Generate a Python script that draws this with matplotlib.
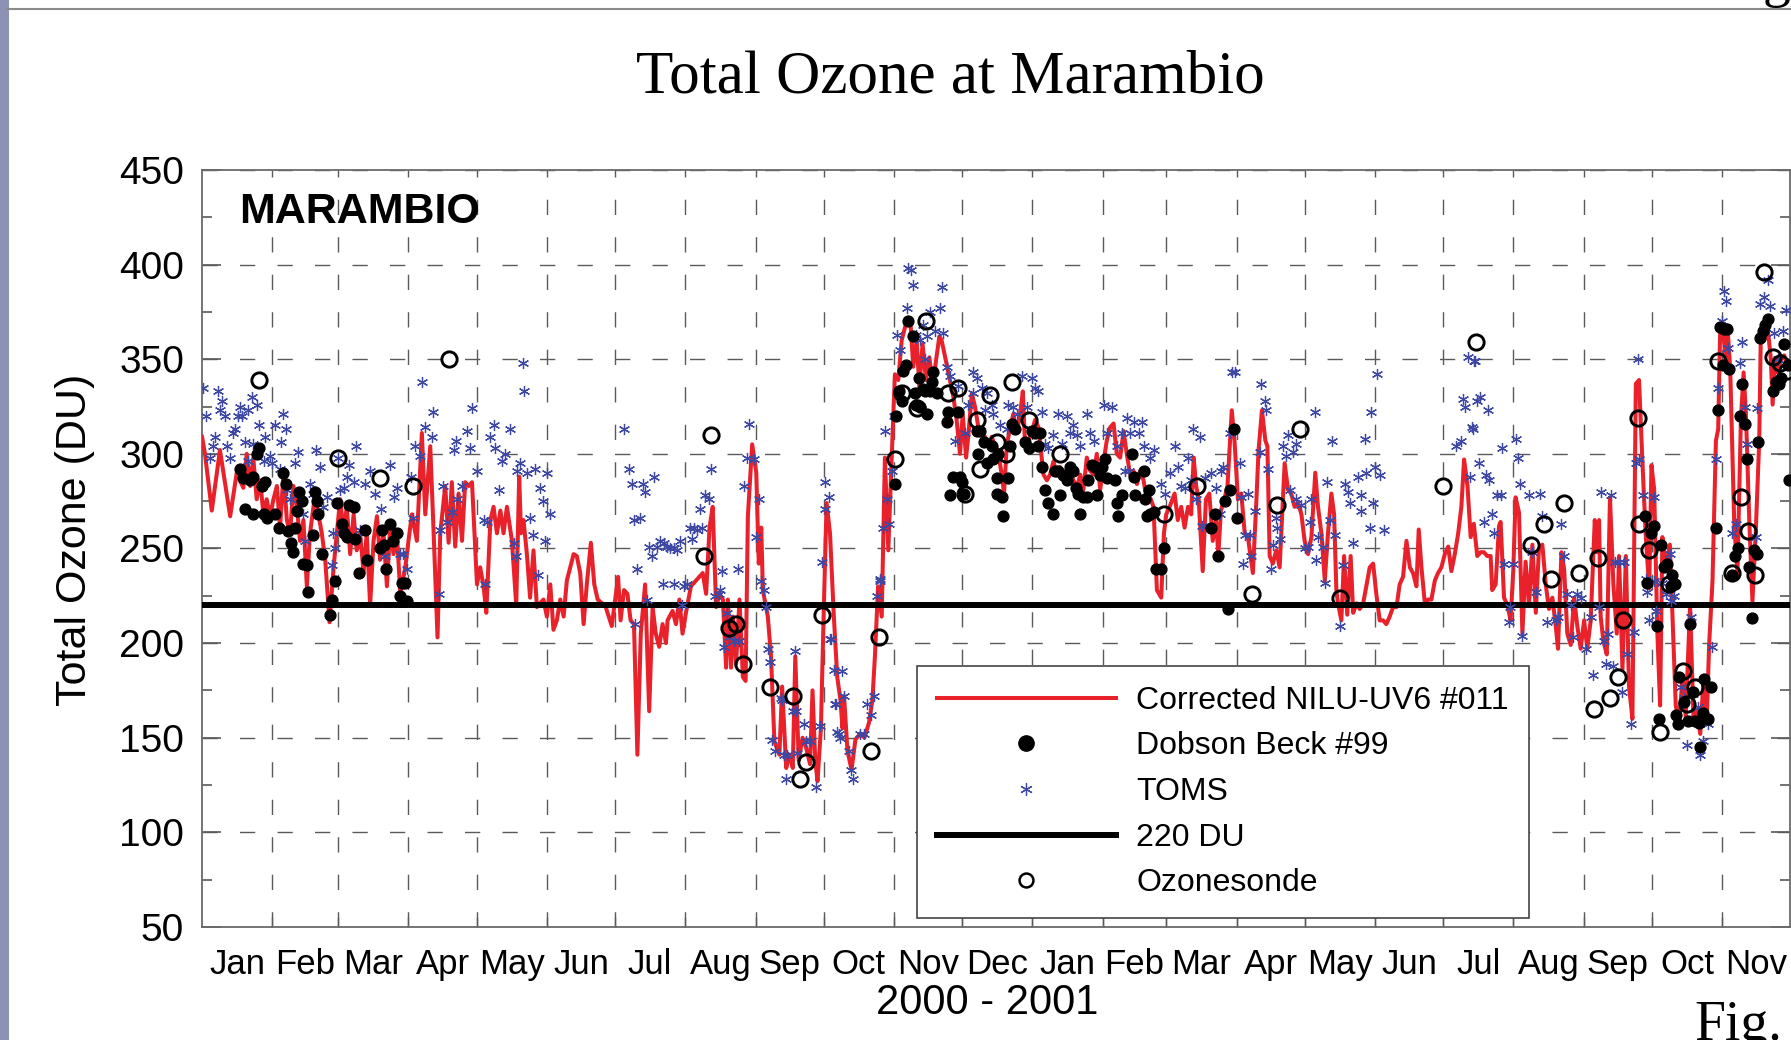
import numpy as np
import matplotlib
matplotlib.use("Agg")
import matplotlib.pyplot as plt
from matplotlib.lines import Line2D
from matplotlib.patches import Rectangle

# x values are days since 2000-01-01, y values are total ozone in DU

MONTH_LABELS = ['Jan', 'Feb', 'Mar', 'Apr', 'May', 'Jun', 'Jul', 'Aug', 'Sep', 'Oct', 'Nov', 'Dec',
                'Jan', 'Feb', 'Mar', 'Apr', 'May', 'Jun', 'Jul', 'Aug', 'Sep', 'Oct', 'Nov']

# Corrected NILU-UV6 #011 (red line)
NILU = [
    (0, 309), (1.3, 300), (4.3, 270), (7.9, 302), (12.4, 267), (15.3, 290), (18.2, 282), (19.7, 300),
    (21.2, 283), (22.6, 298), (24.1, 276), (25.6, 286), (27.1, 268), (28.5, 276), (30, 267),
    (31.5, 276), (33, 283), (34.4, 261), (35.9, 290), (37.4, 265), (38.8, 258), (40.3, 283), (41.8, 272),
    (43.2, 254), (44.7, 265), (46.2, 230), (47.6, 258), (49.9, 279), (51.3, 268), (52.8, 258), (54.3, 244),
    (56.2, 211), (58, 240), (59.4, 258),
    (60.9, 276), (62.4, 258), (63.8, 272), (65.3, 247), (66.8, 268), (68.2, 249), (69.7, 258), (71.2, 237),
    (72.6, 258), (74.1, 220), (75.6, 254), (77.1, 267), (78.5, 244), (80, 258), (81.5, 230), (82.9, 261),
    (84.4, 247), (85.9, 258), (87.4, 226), (89.6, 240), (91, 254),
    (92.5, 268), (94.7, 254), (96.9, 311), (98.4, 268), (100.6, 304), (102.1, 258), (103.8, 203), (105, 258),
    (107.2, 283), (108.7, 253), (110.1, 285), (111.6, 251), (113.1, 279), (114.6, 254), (116, 285),
    (117.5, 283), (119, 285), (121.2, 231),
    (122.6, 240), (124.1, 230), (125.3, 216), (127.1, 265), (128.5, 272), (130, 258), (131.5, 270),
    (132.9, 258), (134.4, 272), (136.6, 254), (138.5, 220), (139.8, 288), (140.6, 258), (141.7, 265),
    (143.2, 247), (144.6, 224), (146.1, 249), (147.6, 219), (149, 221), (150.5, 223), (152, 214),
    (153.5, 231), (154.9, 207), (156.4, 212), (157.9, 223), (159.4, 214), (160.8, 233), (163.8, 247),
    (165.2, 246), (166.7, 237), (168.2, 210), (169.6, 231), (171.4, 253), (172.9, 231), (174.4, 223),
    (176.3, 221), (177.7, 220), (180.6, 209), (182.1, 223), (183.4, 235),
    (184.5, 212), (186, 228), (187.5, 226), (188.9, 212), (190.4, 210), (191.9, 141), (193.4, 205),
    (195.3, 231), (197.1, 164), (198.6, 219), (200, 205), (201.5, 198), (203, 210), (204.5, 200),
    (205.2, 212), (207.4, 217), (208.9, 210), (210.4, 223), (211.8, 205), (213.3, 216), (215.5, 230),
    (217.7, 233),
    (220.7, 237), (222.2, 226), (223.7, 261), (225.1, 272), (226.6, 219), (228.1, 226), (229.6, 223),
    (231, 187), (231.8, 223), (233.2, 187), (234, 214), (235.4, 189), (236.9, 223), (238.4, 182),
    (239.6, 180), (240.6, 267), (242.5, 305), (244.3, 290), (245.4, 242),
    (246.5, 261), (247.2, 228), (249.4, 214), (250.8, 193), (252.3, 148), (254.5, 141), (255.7, 177),
    (257.5, 134), (258.9, 141), (260.4, 134), (261.5, 193), (263, 138), (264.7, 150), (266.2, 145),
    (268, 136), (269.1, 175), (270.3, 138), (271.3, 127), (272.8, 155), (274, 215), (275.3, 274),
    (276.8, 258), (278.5, 214), (280, 182), (281.4, 170),
    (282.3, 155), (283, 172), (284.5, 143), (286.3, 133), (288, 149), (290, 152), (292, 150), (294, 158),
    (295.5, 170), (296.6, 193), (298, 230), (299.6, 214), (301, 298), (302.5, 249), (304, 298),
    (305.4, 342), (306.9, 339), (308.4, 360), (309.9, 367), (311.3, 372), (312.4, 367), (313.5, 346),
    (315, 360), (316.2, 335), (317.6, 358), (319.1, 339), (320.6, 351), (322.1, 335), (323.5, 349),
    (325, 362), (326, 360), (331.2, 330), (332.6, 318), (334.1, 300), (335.3, 321), (336.8, 298),
    (337.8, 310), (339.3, 332), (340.7, 325), (342.2, 314), (343.7, 311), (345.1, 309), (346.6, 304),
    (348.1, 309), (349.6, 304), (351, 300), (352.5, 289), (353.5, 279), (354.7, 304), (356.2, 314),
    (357.6, 321), (359.1, 311), (360.6, 321), (361.8, 333), (362.8, 304), (364.3, 307), (365.7, 311),
    (367.2, 318), (368.7, 314),
    (370.9, 289), (372.4, 286), (373.8, 289), (375.3, 296), (376.8, 289), (378.2, 293), (379.7, 289),
    (381.2, 288), (382.6, 291), (384.1, 286), (385.6, 282), (387.1, 289), (388.5, 281), (390, 298),
    (391.5, 291), (393, 289), (394.4, 300), (395.9, 281), (397.4, 296), (398.8, 307), (400.3, 314),
    (401.8, 316), (403.2, 300), (404.7, 298), (406.2, 312), (407.6, 300), (409.1, 289), (410.6, 291),
    (412.1, 284), (413.5, 291), (415, 286), (416.5, 275), (417.9, 277), (419.4, 272), (420.9, 228),
    (422.8, 224), (424, 258), (425, 268), (426.5, 272), (428.7, 279), (430.1, 265), (431.6, 272),
    (433.1, 261), (434.6, 272), (436, 268), (437.1, 298), (438.2, 283), (439.3, 276), (441.1, 238),
    (442.5, 276), (444, 279), (445.5, 254), (446.9, 265), (448, 247), (449.1, 270), (450.6, 276),
    (452, 283), (453.9, 323), (455.1, 307), (456.6, 276), (458.1, 279), (459.6, 258), (461, 256),
    (463.2, 237), (464.7, 274), (465.7, 302), (467.2, 323), (468.7, 307), (469.6, 304), (470.6, 246),
    (472, 242), (473.5, 249), (475, 240), (477.2, 295), (478.7, 281), (480.1, 279), (481.6, 272),
    (483.1, 274), (484.6, 268), (486, 254), (487.5, 247), (489, 256), (490.7, 290), (491.9, 272),
    (493.4, 258), (494.9, 233), (496.3, 258), (497.8, 279), (499, 268), (500, 228), (500.7, 221),
    (502.2, 212), (503.4, 246), (504.8, 215), (506.3, 246), (507.4, 216), (508.9, 221), (510.3, 218),
    (511.8, 221), (513.2, 230), (514.7, 240), (516.2, 242), (517.6, 226), (519.1, 212), (520.6, 212),
    (522, 210), (523.5, 214), (525, 219), (526.5, 219), (527.9, 231), (529.4, 235), (530.9, 254),
    (532.4, 240), (533.8, 237), (535.3, 230), (536.3, 260), (537.5, 240), (539, 221), (540.4, 223),
    (541.9, 223), (543.4, 233), (544.8, 237), (546.3, 240), (547.8, 247), (549.3, 251), (550.7, 238),
    (552.2, 247), (553.7, 258), (555.1, 272), (556.3, 297), (557.8, 283), (559.2, 256), (560.6, 263),
    (562.1, 246), (563.6, 248), (565, 248), (566.5, 246), (568, 246), (568.7, 228), (570.2, 231),
    (571.7, 262), (572.4, 264), (573.9, 224), (575.4, 220), (576.8, 212), (578, 239), (579, 277),
    (580.5, 269), (582, 205), (583.4, 243), (584.9, 220), (586.4, 252), (587.9, 216), (589.3, 250),
    (590.8, 252), (592.3, 231), (593.7, 218), (595.2, 224), (596.7, 209), (597.7, 197), (599.2, 248),
    (600.4, 239), (601.8, 205), (603.3, 199), (604.8, 224), (606.2, 209), (607.7, 197), (609.2, 212),
    (610.6, 197), (612.1, 212), (613.9, 265), (614.8, 248), (615.8, 265), (616.5, 214), (617.7, 201),
    (619.2, 194), (620.6, 277), (622.1, 231), (623.6, 205), (624.6, 246), (626.1, 186), (627.6, 246),
    (629, 177), (630.5, 160), (632, 337), (633.4, 339), (634.9, 296), (636.4, 256), (637.9, 229),
    (638.9, 294), (640.1, 281), (641.5, 205), (642.7, 167), (643.7, 256), (645.2, 239), (647, 252),
    (648.1, 216), (649.6, 167), (651.1, 158), (652.6, 182), (654, 161), (655.9, 220), (657.4, 161),
    (658.9, 165), (660.4, 152), (661.8, 180), (663.3, 161), (664.3, 199), (665.8, 233), (667.3, 307),
    (668.3, 313), (669.2, 367), (670.6, 364), (671.7, 347), (672.4, 367), (673.6, 345), (675.4, 262),
    (676.8, 237), (678.3, 318), (679.5, 343), (680.5, 322), (682, 265), (683.4, 222), (684.9, 260),
    (686.4, 307), (687.1, 364), (688.6, 360), (690.1, 367), (691.5, 350), (692.3, 326), (693.3, 350),
    (694.5, 343), (696, 350), (697.4, 352), (698.9, 347),
]

# TOMS (blue asterisks)
TOMS = [
    (0.6, 335), (1.8, 320), (3.5, 298), (5, 304), (5.7, 309), (7.2, 333), (8, 323), (8.7, 328),
    (10.1, 320), (10.9, 304), (12.4, 298), (13.8, 311), (14.6, 313), (16, 320), (16.8, 325), (17.5, 320),
    (18.9, 306), (20.4, 323), (20.4, 296), (21.9, 330), (22.6, 305), (24.1, 326), (24.9, 315), (27.1, 296),
    (27.8, 309), (30, 299), (30.7, 295), (32.2, 315), (34.4, 292), (34.7, 306), (35.9, 321), (37.1, 313),
    (37.4, 281), (38.8, 276), (41, 295), (42.5, 301), (44.7, 268), (45.3, 254), (47.6, 284), (49.1, 279),
    (50.3, 302), (51.8, 293), (53.5, 272), (55, 277), (57.2, 241), (57.9, 258), (58.7, 250), (60.1, 298),
    (60.9, 281), (62.4, 282), (63.8, 288), (64.6, 294), (66.8, 285), (67.9, 304), (69.7, 260), (71.9, 284),
    (74.1, 291), (76.3, 279), (79.1, 271), (80.7, 246), (82.9, 294), (84.4, 277), (85.9, 282), (87.4, 247),
    (88.8, 247), (90.3, 239), (92, 288), (93.2, 266), (94, 304), (96.2, 299), (96.9, 338), (98.4, 314),
    (101.3, 309), (101.8, 322), (104.3, 226), (105, 260), (106.3, 283), (107.9, 264), (110.1, 269),
    (110.9, 302), (112.1, 307), (112.4, 276), (114.6, 283), (116.8, 312), (118.2, 303), (119, 324),
    (121.2, 291), (124.1, 265), (124.9, 231), (125.6, 264), (127.1, 309), (128.5, 315), (129.3, 303),
    (130.7, 281), (132.2, 296), (133.6, 300), (135.9, 313), (137.3, 253), (138.5, 246), (138.8, 291),
    (140.2, 295), (141.4, 348), (142, 333), (143.2, 290), (144.6, 266), (146.1, 257), (146.9, 292),
    (148.3, 236), (149.1, 282), (150.2, 275), (151.3, 254), (152, 290), (153.2, 268),
    (186.1, 313), (188, 292), (189.5, 284), (190.2, 265), (191, 210), (191.7, 239), (193.2, 266),
    (194.4, 284), (195.4, 280), (196.1, 223), (196.9, 251), (198.4, 246), (199.1, 288), (200.5, 251),
    (202, 254), (203.2, 231), (203.5, 253), (205, 251), (206.4, 250), (207.9, 250), (207.9, 231),
    (209.4, 249), (210.5, 254), (211.6, 220), (212.3, 230), (213.8, 231), (215.2, 261), (216, 255),
    (216.7, 261), (218.2, 260), (219.3, 271), (220.4, 261), (221.8, 278), (223.3, 276), (224.4, 292),
    (226.3, 225), (227.8, 226), (228.5, 228), (229.2, 238), (230.2, 198), (231.4, 216), (232.1, 203),
    (234.4, 201), (236.3, 239), (236.6, 201), (239.1, 283), (240.2, 298), (241.3, 316), (243.2, 297),
    (244.4, 256), (245.4, 276), (246.4, 233), (247.6, 228), (248.8, 219), (249.4, 197), (250.5, 190),
    (251.3, 149), (252.7, 143), (255, 171), (255.7, 170), (256.4, 141), (257.3, 128), (258, 141),
    (260.5, 164), (261.5, 196), (261.7, 164), (262.3, 142), (265.5, 157), (266.4, 148), (268.2, 148),
    (270.5, 124), (272.3, 156), (273.3, 243), (274.4, 271), (274.8, 285), (276.3, 277), (277, 202),
    (277.4, 202), (278.5, 186), (279, 168), (279.3, 168), (280, 153), (280.7, 152), (281, 150),
    (282, 185), (283, 172), (285, 143), (286, 133), (287, 128), (290, 152), (292, 152), (293, 168),
    (295, 162), (296, 172), (297.4, 225), (298.8, 233), (299, 234), (300.3, 261), (301, 312),
    (301.8, 276), (302.9, 263), (304, 291), (305, 320), (306.2, 363), (307.6, 355), (310.6, 377),
    (311.3, 398), (312.4, 397), (313.2, 389), (314.7, 363), (316.5, 360), (318, 368), (318.7, 350),
    (319.7, 362), (320.9, 375), (323.1, 365), (325.3, 377), (326, 388), (326.8, 364), (328.2, 346),
    (329.7, 341), (331.9, 307), (333.4, 336), (336.3, 311), (337.8, 326), (340, 343), (340, 332),
    (341.5, 340), (343.7, 335), (345.1, 323), (345.9, 332), (348.1, 326), (348.8, 321), (351.8, 315),
    (354.7, 313), (355.4, 326), (357.6, 325), (359.1, 321), (361.3, 341), (363.5, 325), (365.7, 340),
    (367.2, 335), (368.7, 333), (370.1, 322), (371.6, 305), (373.1, 303), (375.3, 310), (377.5, 321),
    (379, 305), (381.2, 320), (382.6, 311), (384.1, 315), (385.6, 310), (387.1, 304), (390, 321),
    (391.5, 311), (393, 307), (397.4, 326), (398.8, 311), (401, 325), (403.2, 304), (405.4, 311),
    (406.9, 291), (407.6, 319), (408.4, 291), (409.1, 311), (410.6, 317), (412.8, 311), (414.3, 317),
    (415, 304), (417.9, 298), (419.4, 302),
    (422.8, 284), (424.3, 279), (426.5, 290), (428.7, 304), (430.1, 293), (431.6, 283), (433.1, 282),
    (434.6, 298), (436, 286), (436.8, 313), (438.2, 276), (439.7, 309), (440.8, 262), (442.3, 287),
    (444.9, 290), (447.1, 282), (448.5, 268), (449.3, 291), (450, 293), (452.9, 311), (454, 343),
    (455.4, 343), (457.4, 295), (458.1, 277), (458.8, 242), (459.6, 257), (461, 279), (461.8, 257),
    (462.5, 246), (464.3, 270), (466.2, 301), (466.9, 337), (468.4, 328), (469.1, 323), (469.9, 292),
    (471.3, 239), (472, 252), (473.5, 266), (474, 261), (475, 255), (476.5, 304), (478, 299),
    (478.7, 310), (479.5, 281), (480.9, 301), (482.4, 305), (482.4, 276), (484.6, 273), (486, 250),
    (487.5, 251), (488.2, 264), (489, 276), (490.4, 322), (491.2, 244), (491.9, 256), (494.1, 251),
    (494.9, 232), (496, 285), (497.1, 265), (498.1, 307), (499.3, 257), (501.5, 209), (503, 241),
    (503.7, 284), (505.1, 280), (505.9, 274), (507.4, 253), (509.6, 288), (510.7, 278), (511, 270),
    (512.5, 308), (513.2, 290), (514.7, 261), (515.4, 322), (516.2, 274), (516.9, 293), (518.1, 342),
    (519.1, 289), (521, 260),
    (552.9, 304), (555.1, 307), (555.8, 329), (556.8, 325), (558.1, 351), (559, 288), (559.9, 314),
    (560.3, 313), (560.6, 349), (561, 349), (562.1, 328), (563, 295), (563.5, 330), (565, 264),
    (566, 289), (566.8, 323), (567.3, 286), (568.7, 268), (569.7, 258), (571, 278), (572.5, 278),
    (573, 303), (573.9, 242), (576, 211), (576.5, 219), (578, 242), (579, 308), (580, 298), (581, 284),
    (582, 204), (585, 278), (586.4, 248), (587.9, 227), (589.8, 279), (590.8, 267), (593, 211),
    (596.7, 212), (597.7, 214), (598.9, 263), (600.3, 246), (601.8, 226), (603.3, 220), (604.5, 203),
    (606.2, 226), (607.7, 224), (609.9, 197), (612.1, 214), (612.9, 183), (615.8, 219), (616.8, 280),
    (618, 201), (618.7, 189), (619.8, 205), (621.2, 278), (622.1, 188), (622.7, 243), (624.6, 243),
    (626.1, 174), (626.8, 243), (628, 194), (629.8, 157), (631.2, 206), (632, 295), (633, 350),
    (633.4, 297), (635, 278), (636.4, 234), (637.1, 227), (637.9, 212), (639.8, 277), (640.1, 233),
    (640.8, 217), (643.7, 232), (645.2, 226), (647, 247), (647.4, 222), (648.9, 225), (651.1, 182),
    (651.8, 177), (653.3, 171), (654.7, 146), (656.2, 214), (657, 173), (659.2, 166), (660.1, 141),
    (661.4, 148), (663.6, 157), (665.4, 198), (667.3, 297), (668, 335), (669.8, 370), (671, 386),
    (671.7, 381), (672.7, 356), (674.6, 258), (676.1, 263), (678, 348), (679, 359), (680.1, 325),
    (681.2, 305), (684.9, 256), (685.6, 324), (686.8, 379), (688.6, 383), (690.1, 392), (691.2, 378),
    (693, 364), (694.5, 350), (696.7, 365), (698.1, 376),
]

# Dobson Beck #99 (filled dots)
DOBSON = [
    (16.8, 292), (18.2, 287), (19, 271), (21.2, 286), (22.6, 288), (22.6, 268), (24.1, 300), (24.9, 303),
    (26.3, 283), (27.1, 268), (27.8, 285), (28.5, 266), (32.2, 268), (34, 261), (35.9, 290), (37.1, 284),
    (38.1, 259), (39.1, 253), (40, 248), (41, 261), (41.8, 270), (42.8, 280), (44, 275), (44.7, 242),
    (46.2, 241), (46.9, 227), (49.1, 257), (49.9, 280), (50.6, 275), (51.3, 268), (52.8, 247), (56.2, 215),
    (57.2, 223), (58.7, 233), (59.7, 274), (61.6, 263), (62.4, 258), (63.8, 256), (64.6, 273), (66.8, 272),
    (67.5, 255), (69, 237), (71.9, 260), (72.6, 244), (78.5, 250), (79.3, 260), (80, 252), (81.2, 239),
    (82.9, 263), (84.1, 254), (85.9, 258), (87.1, 225), (88.1, 232), (89.6, 232), (90.3, 222),
    (305.4, 284), (305.9, 320), (307.4, 333), (308.4, 328), (308.8, 344), (310.3, 347), (311.3, 370),
    (313.2, 362), (314.3, 332), (314.7, 326), (316.2, 340), (316.5, 325), (317.6, 334), (318.7, 333),
    (319.7, 321), (320.9, 333), (321.6, 338), (322.4, 343), (323.8, 332), (328.2, 317), (329, 322),
    (329.7, 278), (331.2, 288), (333.4, 322), (334.1, 288), (334.9, 285), (335.9, 279), (341.5, 312),
    (342.2, 300), (343, 312), (344.5, 306), (345.9, 295), (348.1, 304), (348.8, 297), (350.3, 287),
    (350.3, 279), (351, 300), (352.5, 277), (353.2, 267), (355.4, 287), (356.2, 304), (356.9, 316),
    (358.4, 313), (362.8, 306), (364.3, 303), (365.7, 312), (367.2, 311), (368.7, 304), (369.4, 311),
    (370.1, 293), (371.6, 281), (373.1, 274), (375.3, 268), (376, 291), (377.5, 291), (378.2, 278),
    (379.7, 289), (381.2, 286), (382.6, 293), (384.1, 291), (385.3, 282), (386.3, 279), (387.1, 268),
    (388.5, 277), (390, 277), (390.7, 286), (392.2, 294), (393.7, 293), (394.4, 278), (395.6, 289),
    (396.6, 293), (398.1, 297), (398.8, 287), (402.5, 286), (403.2, 274), (403.9, 267), (405.4, 278),
    (409.9, 300), (410.6, 288), (411.3, 278), (415, 291), (415.7, 276), (416.5, 267), (417.2, 281),
    (417.9, 268), (419.4, 269), (420.6, 239), (422.8, 239), (424, 250),
    (444.9, 261), (446.3, 268), (447.8, 246), (450.7, 275), (452.2, 218), (452.9, 281), (454.9, 313),
    (456.3, 266),
    (636, 267), (637.1, 232), (638.6, 258), (639.8, 262), (641.3, 209), (642.3, 160), (643, 252),
    (644.2, 240), (645.9, 242), (647.4, 230), (648.1, 236), (649.2, 231), (649.6, 162), (650.7, 157),
    (651.1, 182), (653.3, 169), (654.8, 159), (655.9, 210), (657.4, 174), (658, 159), (659.9, 158),
    (660.1, 145), (661.4, 163), (662.1, 181), (663.9, 160), (665.1, 177), (667.3, 261), (668, 323),
    (669.2, 367), (670.6, 347), (671, 366), (672.4, 366), (673.1, 345), (674.2, 236), (675.6, 246),
    (677.1, 250), (678, 320), (679, 337), (680.1, 316), (681, 297), (682, 240), (683.4, 213),
    (684.2, 249), (685.3, 247), (685.9, 306), (686.8, 361), (687.9, 365), (688.9, 368), (690.1, 371),
    (692.3, 333), (693.7, 338), (695.2, 337), (695.9, 340), (697.4, 358), (698.9, 347), (699.6, 286),
]

# Ozonesonde (open circles)
SONDE = [
    (25.2, 339), (60, 298), (78.6, 287), (93.2, 283), (108.9, 350),
    (221.4, 246), (224.4, 310), (232.1, 208), (235.5, 210), (238.5, 189), (250.2, 177), (260.5, 172),
    (263.5, 128), (266.4, 137), (273.3, 215), (294.8, 143), (298.5, 203),
    (305.4, 297), (308.4, 332), (315, 324), (319.1, 370), (329, 332), (333.4, 335), (336.3, 279),
    (341.5, 318), (343, 292), (347.5, 331), (350.3, 306), (354.3, 300), (357.2, 338), (364.3, 318),
    (378.2, 300), (424, 268), (438.5, 283), (463, 226), (473.8, 273), (483.8, 313), (501.5, 224),
    (547, 283), (561.5, 359), (585.6, 252), (591.7, 263), (594.7, 234), (600.3, 274), (606.8, 237),
    (613.4, 165), (615.4, 245), (620.4, 171), (624, 182), (626.5, 212), (632.8, 319), (633.5, 263),
    (637.6, 249), (642.6, 153), (646.6, 231), (652.7, 185), (654.7, 168), (658.2, 177), (668.3, 349),
    (674.4, 237), (678.5, 277), (681.5, 259), (684.4, 236), (688.5, 396), (692.5, 351), (695.5, 348),
    (698.6, 344),
]

THRESHOLD = 220

SANS = 'Liberation Sans'
SERIF = 'Liberation Serif'
RED = '#e8212b'
BLUE = '#3c48a3'
GRID = '#5a5a5a'

nilu_x, nilu_y = np.array(NILU).T
toms_x, toms_y = np.array(TOMS).T
dob_x, dob_y = np.array(DOBSON).T
sonde_x, sonde_y = np.array(SONDE).T

# month edges in days since 2000-01-01
months = np.arange(np.datetime64('2000-01'), np.datetime64('2001-12') + 1)
edges = (months.astype('datetime64[D]') - np.datetime64('2000-01-01')).astype(int)
centers = (edges[:-1] + edges[1:]) / 2

fig = plt.figure(figsize=(17.91, 10.40), dpi=100)
ax = fig.add_axes([0.1128, 0.1087, 0.8867, 0.7279])

ax.plot(nilu_x, nilu_y, color=RED, lw=2.9, zorder=3)
ax.axhline(THRESHOLD, color='black', lw=4.3, zorder=4)
ax.plot(toms_x, toms_y, ls='none', marker=(6, 2, 0), ms=8, mec=BLUE, mew=0.9, zorder=5)
ax.plot(dob_x, dob_y, ls='none', marker='o', ms=7.8, mfc='black', mec='black', zorder=6)
ax.plot(sonde_x, sonde_y, ls='none', marker='o', ms=11, mfc='none', mec='black', mew=2.1, zorder=7)

ax.set_xlim(edges[0], edges[-1])
ax.set_ylim(50, 450)

ax.set_xticks(edges[1:-1])
ax.set_xticklabels([])
ax.set_xticks(centers, minor=True)
ax.set_xticklabels(MONTH_LABELS, minor=True, family=SANS, fontsize=25)
ax.tick_params(axis='x', which='major', direction='in', length=7, width=1, color=GRID)
ax.tick_params(axis='x', which='minor', length=0, pad=15)

ax.set_yticks(np.arange(50, 451, 50))
ax.set_yticks(np.arange(75, 450, 50), minor=True)
ax.set_yticklabels([str(v) for v in range(50, 451, 50)], family=SANS, fontsize=28)
ax.tick_params(axis='y', which='major', direction='in', length=14, width=1.2, color=GRID,
               right=True, pad=13)
ax.tick_params(axis='y', which='minor', direction='in', length=7, width=1.2, color=GRID, right=True)

ax.grid(True, which='major', color=GRID, lw=1.0, ls=(0, (11, 16)))
ax.set_axisbelow(True)
for s in ax.spines.values():
    s.set_color('#6a6a6a')
    s.set_linewidth(1.3)

ax.text(0.0233, 0.9445, 'MARAMBIO', transform=ax.transAxes, family=SANS, fontsize=31,
        fontweight='bold', ha='left', va='center')

handles = [
    Line2D([], [], color=RED, lw=2.9),
    Line2D([], [], ls='none', marker='o', ms=11, mfc='black', mec='black'),
    Line2D([], [], ls='none', marker=(6, 2, 0), ms=9, mec=BLUE, mew=0.9),
    Line2D([], [], color='black', lw=4.3),
    Line2D([], [], ls='none', marker='o', ms=10, mfc='none', mec='black', mew=1.8),
]
labels = ['Corrected NILU-UV6 #011', 'Dobson Beck #99', 'TOMS', '220 DU', 'Ozonesonde']
leg = ax.legend(handles, labels, loc='upper left', bbox_to_anchor=(0.512, 0.3596),
                bbox_transform=fig.transFigure, borderaxespad=0, prop={'family': SANS, 'size': 23},
                handlelength=5.6, handletextpad=0.65, labelspacing=0.49, borderpad=0.62,
                fancybox=False, framealpha=1, edgecolor='#444444')
leg.get_frame().set_linewidth(1.2)
leg.set_zorder(10)

fig.text(0.5304, 0.925, 'Total Ozone at Marambio', family=SERIF, fontsize=44, ha='center', va='center')
fig.text(0.0419, 0.4808, 'Total Ozone (DU)', family=SANS, fontsize=31, rotation=90,
         ha='center', va='center')
fig.text(0.551, 0.0356, '2000 - 2001', family=SANS, fontsize=30, ha='center', va='center')

# scan leftovers: page rule, left edge, neighbouring text
fig.add_artist(Line2D([0.004, 1.0], [0.9915, 0.9915], transform=fig.transFigure, color='#8a8a8a', lw=1.5))
fig.add_artist(Rectangle((0, 0), 0.005, 1, transform=fig.transFigure, color='#8c92b4', lw=0))
fig.text(0.946, 0.0, 'Fig.', family=SERIF, fontsize=40, ha='left', va='baseline')
fig.text(0.984, 1.004, 'g', family=SERIF, fontsize=40, ha='left', va='baseline')

fig.savefig('out.png', dpi=100)
